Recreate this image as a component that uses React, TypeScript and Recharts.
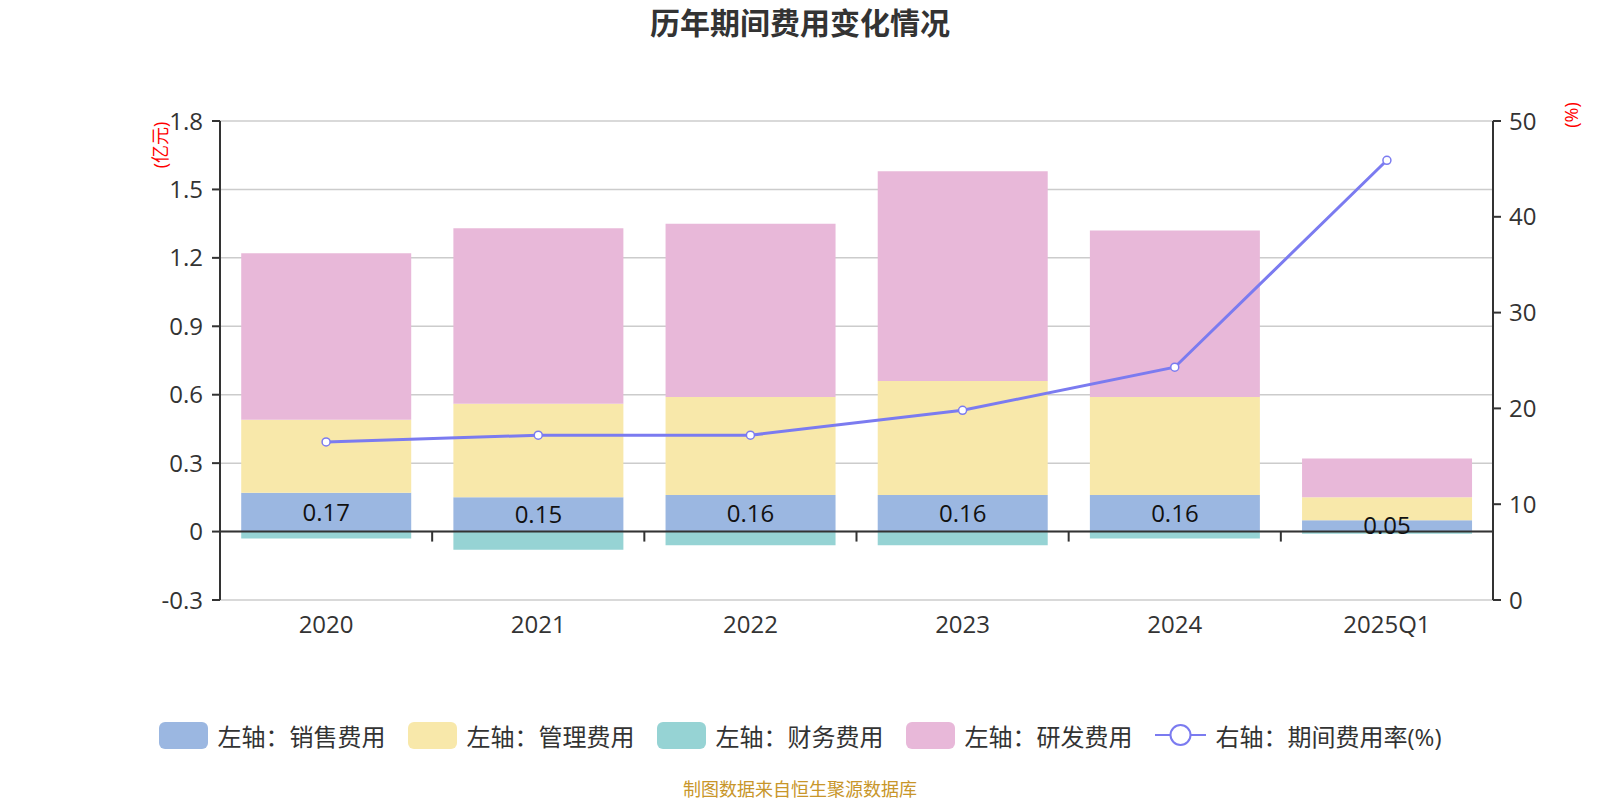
import { Bar, CartesianGrid, ComposedChart, LabelList, Legend, Line, ReferenceLine, XAxis, YAxis } from "recharts";

const years = ["2020", "2021", "2022", "2023", "2024", "2025Q1"];
const salesCost = [0.17, 0.15, 0.16, 0.16, 0.16, 0.05];
const adminCost = [0.32, 0.41, 0.43, 0.5, 0.43, 0.1];
const financeCost = [-0.03, -0.08, -0.06, -0.06, -0.03, -0.01];
const rdCost = [0.73, 0.77, 0.76, 0.92, 0.73, 0.17];
const expenseRate = [16.5, 17.2, 17.2, 19.8, 24.3, 45.9];

const leftTicks = [-0.3, 0, 0.3, 0.6, 0.9, 1.2, 1.5, 1.8];
const rightTicks = [0, 10, 20, 30, 40, 50];

const data = years.map((year, i) => ({
  year,
  sales: salesCost[i],
  admin: adminCost[i],
  finance: financeCost[i],
  rd: rdCost[i],
  rate: expenseRate[i],
}));

const FONT = "'Open Sans', 'Noto Sans CJK SC', sans-serif";
const LINE_COLOR = "#7b7bf0";

const legendItems = [
  { label: "左轴：销售费用", color: "#9bb7e1" },
  { label: "左轴：管理费用", color: "#f8e8aa" },
  { label: "左轴：财务费用", color: "#96d3d4" },
  { label: "左轴：研发费用", color: "#e8b8d9" },
];

const ChartLegend = () => (
  <div style={{ display: "flex", justifyContent: "center", alignItems: "center", gap: 22, fontFamily: FONT, fontSize: 24, color: "#333", height: 30 }}>
    {legendItems.map((item) => (
      <div key={item.label} style={{ display: "flex", alignItems: "center" }}>
        <span style={{ width: 49, height: 27, borderRadius: 6, background: item.color, marginRight: 10 }} />
        <span>{item.label}</span>
      </div>
    ))}
    <div style={{ display: "flex", alignItems: "center" }}>
      <svg width={51} height={26} style={{ marginRight: 10 }}>
        <line x1={0} y1={13} x2={51} y2={13} stroke={LINE_COLOR} strokeWidth={2} />
        <circle cx={25.5} cy={13} r={10} fill="#fff" stroke={LINE_COLOR} strokeWidth={2} />
      </svg>
      <span>右轴：期间费用率(%)</span>
    </div>
  </div>
);

// zero axis line with small tick marks on the category boundaries
const ZeroAxis = (props: any) => {
  const { x1, y1, x2 } = props;
  const step = (x2 - x1) / years.length;
  return (
    <g>
      <line x1={x1} y1={y1} x2={x2} y2={y1} stroke="#333" strokeWidth={2} />
      {years.slice(1).map((_, k) => (
        <line key={k} x1={x1 + step * (k + 1)} y1={y1} x2={x1 + step * (k + 1)} y2={y1 + 10} stroke="#333" strokeWidth={2} />
      ))}
    </g>
  );
};

export default function App() {
  const tickStyle = { fontSize: 24, fill: "#333", fontFamily: FONT };
  const axisStroke = { stroke: "#333", strokeWidth: 2 };
  return (
    <div style={{ position: "absolute", left: 0, top: 0, width: 1600, height: 800, background: "#fff", fontFamily: FONT }}>
      <div style={{ position: "absolute", top: 0, left: 0, width: 1600, textAlign: "center", fontSize: 30, fontWeight: "bold", lineHeight: "45px", color: "#333" }}>
        历年期间费用变化情况
      </div>
      <div style={{ position: "absolute", left: 159, top: 145, transform: "translate(-50%, -50%) rotate(-90deg)", fontSize: 18, color: "#ff0000", whiteSpace: "nowrap" }}>
        (亿元)
      </div>
      <div style={{ position: "absolute", left: 1571, top: 115, transform: "translate(-50%, -50%) rotate(-90deg)", fontSize: 18, color: "#ff0000", whiteSpace: "nowrap" }}>
        (%)
      </div>
      <ComposedChart
        width={1600}
        height={800}
        data={data}
        stackOffset="sign"
        barCategoryGap="10%"
        margin={{ top: 121, right: 27, bottom: 160, left: 140 }}
      >
        <CartesianGrid yAxisId="left" vertical={false} stroke="#ccc" strokeWidth={1.5} />
        <XAxis dataKey="year" axisLine={false} tickLine={false} tickSize={8} tickMargin={8} height={40} tick={tickStyle} interval={0} />
        <YAxis
          yAxisId="left"
          domain={[-0.3, 1.8]}
          ticks={leftTicks}
          interval={0}
          tickFormatter={(v: number) => String(v)}
          axisLine={axisStroke}
          tickLine={axisStroke}
          tickSize={8}
          tickMargin={9}
          width={80}
          tick={tickStyle}
        />
        <YAxis
          yAxisId="right"
          orientation="right"
          domain={[0, 50]}
          ticks={rightTicks}
          interval={0}
          axisLine={axisStroke}
          tickLine={axisStroke}
          tickSize={8}
          tickMargin={8}
          width={80}
          tick={tickStyle}
        />
        <ReferenceLine yAxisId="left" y={0} shape={<ZeroAxis />} />
        <Bar yAxisId="left" dataKey="sales" stackId="cost" fill="#9bb7e1" isAnimationActive={false}>
          <LabelList dataKey="sales" position="center" fill="#111" fontSize={24} fontFamily={FONT} formatter={(v: any) => Number(v).toFixed(2)} />
        </Bar>
        <Bar yAxisId="left" dataKey="admin" stackId="cost" fill="#f8e8aa" isAnimationActive={false} />
        <Bar yAxisId="left" dataKey="finance" stackId="cost" fill="#96d3d4" isAnimationActive={false} />
        <Bar yAxisId="left" dataKey="rd" stackId="cost" fill="#e8b8d9" isAnimationActive={false} />
        <Line
          yAxisId="right"
          dataKey="rate"
          type="linear"
          stroke={LINE_COLOR}
          strokeWidth={3}
          dot={{ r: 4, fill: "#fff", stroke: LINE_COLOR, strokeWidth: 1.5 }}
          activeDot={false}
          isAnimationActive={false}
        />
        <Legend
          layout="horizontal"
          align="center"
          verticalAlign="middle"
          content={<ChartLegend />}
          wrapperStyle={{ top: 720, left: 0, width: 1600, height: 30 }}
        />
      </ComposedChart>
      <div style={{ position: "absolute", top: 780, left: 0, width: 1600, textAlign: "center", fontSize: 18, lineHeight: "18px", color: "#c8962a" }}>
        制图数据来自恒生聚源数据库
      </div>
    </div>
  );
}
